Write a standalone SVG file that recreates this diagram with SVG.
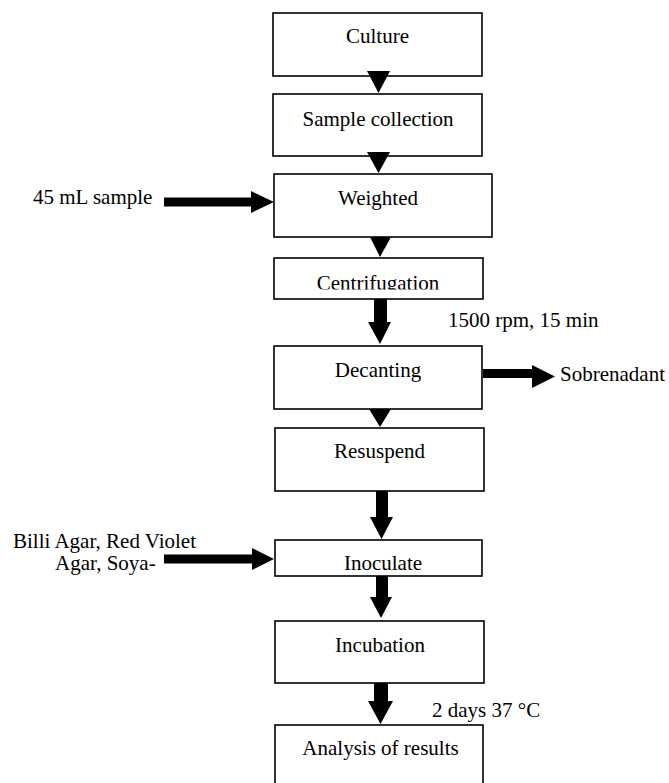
<svg xmlns="http://www.w3.org/2000/svg" width="669" height="783" viewBox="0 0 669 783">
<style>
.box{fill:#fff;stroke:#000;stroke-width:1.6}
.t{font-family:"Liberation Serif","Times New Roman",serif;font-size:21px;fill:#000}
.c{text-anchor:middle}
.ar{fill:#000;stroke:none}
</style>
<defs>
<clipPath id="clipCentri"><rect x="274" y="258" width="209" height="31.5"/></clipPath>
</defs>
<rect width="669" height="783" fill="#fff"/>
<g id="culture"><rect class="box" x="273" y="13" width="209" height="63"/><text class="t c" x="377.5" y="43">Culture</text></g>
<g id="sample-collection"><rect class="box" x="273" y="94" width="209" height="62"/><text class="t c" x="378" y="126">Sample collection</text></g>
<g id="weighted"><rect class="box" x="274" y="174" width="218" height="63"/><text class="t c" x="378" y="205">Weighted</text></g>
<g id="centrifugation"><rect class="box" x="274" y="258" width="209" height="41"/><text class="t c" x="378" y="289.5" clip-path="url(#clipCentri)">Centrifugation</text></g>
<g id="decanting"><rect class="box" x="274" y="346" width="208" height="63"/><text class="t c" x="378" y="377">Decanting</text></g>
<g id="resuspend"><rect class="box" x="275" y="428" width="209" height="63"/><text class="t c" x="379.5" y="458">Resuspend</text></g>
<g id="inoculate"><rect class="box" x="275" y="540" width="207" height="36"/><text class="t c" x="383" y="570">Inoculate</text></g>
<g id="incubation"><rect class="box" x="275" y="621" width="209" height="62"/><text class="t c" x="380" y="652">Incubation</text></g>
<g id="analysis"><rect class="box" x="275" y="725" width="208" height="70"/><text class="t c" x="380.5" y="755">Analysis of results</text></g>
<g id="labels">
<text class="t" x="33" y="204">45 mL sample</text>
<text class="t" x="448" y="327">1500 rpm, 15 min</text>
<text class="t" x="560" y="381">Sobrenadant</text>
<text class="t" x="13" y="548">Billi Agar, Red Violet</text>
<text class="t" x="55" y="570">Agar, Soya-</text>
<text class="t" x="432" y="717">2 days 37 °C</text>
</g>
<g id="connectors">
<polygon class="ar" points="367,71 390,71 378.5,93"/>
<polygon class="ar" points="367,152 390,152 378.5,173"/>
<polygon class="ar" points="164,197.5 251,197.5 251,191 274,202 251,213 251,206.5 164,206.5"/>
<polygon class="ar" points="370,237 391,237 380,257"/>
<polygon class="ar" points="374,299 387,299 387,322 391,322 380,344 368,322 374,322"/>
<polygon class="ar" points="483,369 532,369 532,365 555,376.5 532,388 532,378 483,378"/>
<polygon class="ar" points="369,409 391,409 380,427"/>
<polygon class="ar" points="376,491 388,491 388,517 393,517 381.5,539 370,517 376,517"/>
<polygon class="ar" points="164,554.5 252,554.5 252,548 274,559 252,570 252,563.5 164,563.5"/>
<polygon class="ar" points="376,576 388,576 388,597 392,597 381,618 370,597 376,597"/>
<polygon class="ar" points="374,683 388,683 388,701 393,701 380.5,724 368,701 374,701"/>
</g>
</svg>
